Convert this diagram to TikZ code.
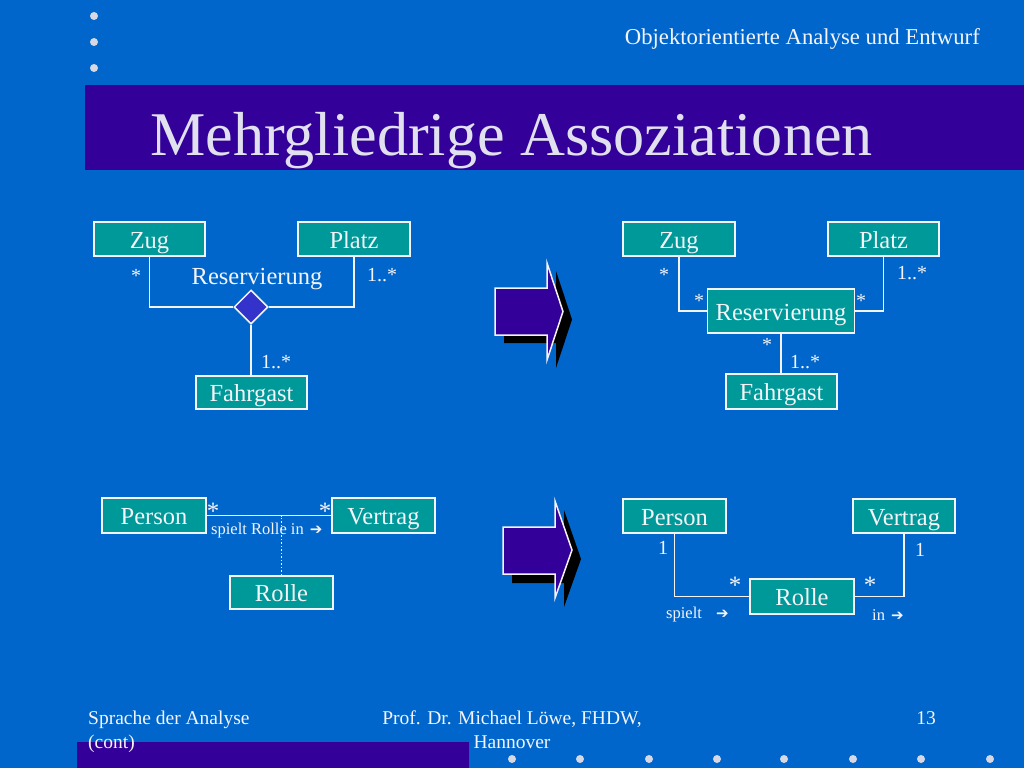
\documentclass[tikz,border=0pt]{standalone}
\usepackage{fontspec}
\setmainfont{Liberation Serif}
\newfontfamily\symfont{DejaVu Sans Bold}
\usetikzlibrary{shapes.geometric}
\definecolor{bgblue}{HTML}{0066CC}
\definecolor{barpurple}{HTML}{330099}
\definecolor{boxteal}{HTML}{009999}
\definecolor{diafill}{HTML}{3333CC}
\definecolor{titletext}{HTML}{E0E0EE}
\definecolor{dotgray}{HTML}{D8D8E4}
\definecolor{txt}{HTML}{F4F4F8}
\tikzset{
  cls/.style={draw=txt, line width=1.8pt, fill=boxteal, text=txt, inner sep=0pt,
    text height=19pt, text depth=1pt, font=\fontsize{24.5}{28}\selectfont},
  conn/.style={draw=txt, line width=1.8pt},
  mult/.style={text=txt, inner sep=0pt, font=\fontsize{20}{24}\selectfont},
  bigmult/.style={text=txt, inner sep=0pt, font=\fontsize{25}{28}\selectfont},
  small/.style={text=txt, inner sep=0pt, font=\fontsize{16.5}{19}\selectfont},
  dotmark/.style={fill=dotgray, draw=none},
  blockarrow/.style={fill=barpurple, draw=txt, line width=1.5pt, line join=miter},
  arrowshadow/.style={fill=black, draw=none},
}
\newcommand{\rarr}{{\symfont\fontsize{15}{16}\selectfont ➔}}
\begin{document}
\begin{tikzpicture}[x=1pt,y=-1pt]
\useasboundingbox (0,0) rectangle (1024,768);
\fill[bgblue] (0,0) rectangle (1024,768);
% title bar
\fill[barpurple] (85,85) rectangle (1024,170);
\node[anchor=base west, inner sep=0pt, text=titletext, font=\fontsize{62.2}{70}\selectfont] (title) at (150,155) {Mehrgliedrige Assoziationen};
\node[anchor=base east, inner sep=0pt, text=txt, font=\fontsize{22.7}{26}\selectfont] (header) at (980,45) {Objektorientierte Analyse und Entwurf};
% top dots
\foreach \yy in {16,42,68} \fill[dotmark] (94,\yy) circle (4);
% footer
\fill[barpurple] (77,742) rectangle (469,768);
\foreach \xx in {512,580,649,717,784,853,921,990} \fill[dotmark] (\xx,759) circle (4);
\node[anchor=base west, inner sep=0pt, text=txt, font=\fontsize{19.5}{24}\selectfont, align=left] (foot1) at (88,748) {Sprache der Analyse\\(cont)};
\node[anchor=base, inner sep=0pt, text=txt, font=\fontsize{19.5}{24}\selectfont, align=center] (foot2) at (512,748) {Prof. Dr. Michael Löwe, FHDW,\\Hannover};
\node[anchor=base east, inner sep=0pt, text=txt, font=\fontsize{19.5}{24}\selectfont] (foot3) at (936,724) {13};

% ---------- top left ----------
\node[cls, minimum width=111pt, minimum height=34pt] (zugA) at (149.5,239) {Zug};
\node[cls, minimum width=112pt, minimum height=34pt] (platzA) at (354,239) {Platz};
\node[cls, minimum width=111pt, minimum height=33pt] (fahrA) at (251.5,392.5) {Fahrgast};
\node[diamond, draw=txt, line width=1.5pt, fill=diafill, minimum width=34pt, minimum height=34pt, inner sep=0pt] (dA) at (251,307) {};
\draw[conn] (zugA.south) |- (dA.west);
\draw[conn] (platzA.south) |- (dA.east);
\draw[conn] (dA.south) -- (dA.south |- fahrA.north);
\node[mult] (mA1) at (136,276) {*};
\node[mult, font=\fontsize{24.5}{30}\selectfont] (resA) at (257,279) {Reservierung};
\node[mult] (mA2) at (382,275) {1..*};
\node[mult] (mA3) at (276,362) {1..*};

% ---------- top right ----------
\node[cls, minimum width=112pt, minimum height=34pt] (zugB) at (679,239) {Zug};
\node[cls, minimum width=111pt, minimum height=34pt] (platzB) at (883.5,239) {Platz};
\node[cls, minimum width=147pt, minimum height=44pt] (resB) at (781,311) {Reservierung};
\node[cls, minimum width=111pt, minimum height=35pt] (fahrB) at (781.5,391.5) {Fahrgast};
\draw[conn] (zugB.south) |- (resB.west);
\draw[conn] (platzB.south) |- (resB.east);
\draw[conn] (resB.south) -- (resB.south |- fahrB.north);
\node[mult] (mB1) at (664,275) {*};
\node[mult] (mB2) at (699,301) {*};
\node[mult] (mB3) at (861,301) {*};
\node[mult] (mB4) at (912,273) {1..*};
\node[mult] (mB5) at (767,345) {*};
\node[mult] (mB6) at (805,362) {1..*};

% ---------- block arrows ----------
\fill[arrowshadow] (504,296) -- (556,296) -- (556,271) -- (572,319.5) -- (556,368) -- (556,343) -- (504,343) -- cycle;
\path[blockarrow] (495,288) -- (547,288) -- (547,263) -- (563,311.5) -- (547,360) -- (547,335) -- (495,335) -- cycle;
\fill[arrowshadow] (512,536) -- (564,536) -- (564,510) -- (581,559) -- (564,607) -- (564,583) -- (512,583) -- cycle;
\path[blockarrow] (503,527) -- (555,527) -- (555,501) -- (572,550) -- (555,598) -- (555,574) -- (503,574) -- cycle;

% ---------- bottom left ----------
\node[cls, minimum width=104pt, minimum height=35pt] (personC) at (154,515.5) {Person};
\node[cls, minimum width=103pt, minimum height=35pt] (vertragC) at (383.5,515.5) {Vertrag};
\node[cls, minimum width=103pt, minimum height=33pt] (rolleC) at (281.5,592.5) {Rolle};
\draw[conn] (personC.east) -- (vertragC.west);
\draw[draw=txt, line width=1.5pt, dotted] (rolleC.north) -- (rolleC.north |- personC.east);
\node[bigmult] (mC1) at (213,511) {*};
\node[bigmult] (mC2) at (325,511) {*};
\node[small, anchor=west] (labC) at (211,531) {spielt Rolle in\hspace{2pt} \rarr};

% ---------- bottom right ----------
\node[cls, minimum width=103pt, minimum height=34pt] (personD) at (674.5,516) {Person};
\node[cls, minimum width=102pt, minimum height=34pt] (vertragD) at (904,516) {Vertrag};
\node[cls, minimum width=104pt, minimum height=35pt] (rolleD) at (802,596.5) {Rolle};
\draw[conn] (personD.south) |- (rolleD.west);
\draw[conn] (vertragD.south) |- (rolleD.east);
\node[mult] (mD1) at (663,548) {1};
\node[mult] (mD2) at (920,550) {1};
\node[bigmult] (mD3) at (735,585) {*};
\node[bigmult] (mD4) at (870,585) {*};
\node[small, anchor=west] (labD1) at (666,615) {spielt\hspace{10pt} \rarr};
\node[small, anchor=west] (labD2) at (872,615) {in\hspace{2pt} \rarr};
\end{tikzpicture}
\end{document}
